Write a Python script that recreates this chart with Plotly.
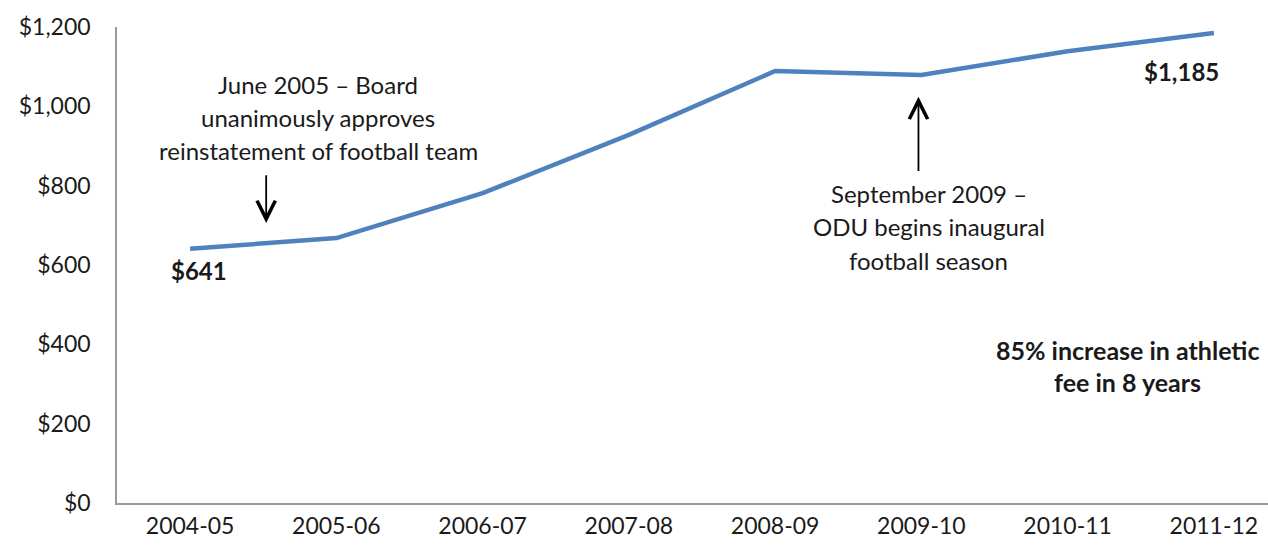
import plotly.graph_objects as go

# Annual athletic fee by academic year
years = ["2004-05", "2005-06", "2006-07", "2007-08", "2008-09", "2009-10", "2010-11", "2011-12"]
fees = [641, 668, 781, 928, 1089, 1079, 1139, 1185]

y_ticks = [0, 200, 400, 600, 800, 1000, 1200]
y_labels = ["$0", "$200", "$400", "$600", "$800", "$1,000", "$1,200"]

FONT = "Lato"
TXT = "#1a1a1a"

fig = go.Figure()
fig.add_trace(go.Scatter(
    x=list(range(len(years))), y=fees, mode="lines",
    line=dict(color="#4F81BD", width=4.5),
    hoverinfo="skip", showlegend=False,
))

ann = []

def text(x, y, s, bold=False, size=24):
    ann.append(dict(x=x, y=y, xref="x", yref="y", text=f"<b>{s}</b>" if bold else s,
                    showarrow=False, font=dict(family=FONT, size=size, color=TXT),
                    xanchor="center", yanchor="middle"))

# Endpoint value labels
text(0.06, 585, f"${fees[0]:,}", bold=True, size=24)
text(6.78, 1087, f"${fees[-1]:,}", bold=True, size=24)

# Board approval note
for i, line in enumerate(["June 2005 \u2013 Board", "unanimously approves", "reinstatement of football team"]):
    text(0.875, 1055 - i * 83, line)

# Inaugural season note
for i, line in enumerate(["September 2009 \u2013", "ODU begins inaugural", "football season"]):
    text(5.05, 780 - i * 84, line)

# Summary note
text(6.41, 385, "85% increase in athletic", bold=True, size=25)
text(6.41, 305, "fee in 8 years", bold=True, size=25)

# Arrows
ann.append(dict(x=0.52, y=706, ax=0.52, ay=830, xref="x", yref="y", axref="x", ayref="y",
                text="", showarrow=True, arrowhead=5, arrowsize=2.0, arrowwidth=1.8, arrowcolor="#000"))
ann.append(dict(x=4.98, y=1024, ax=4.98, ay=833, xref="x", yref="y", axref="x", ayref="y",
                text="", showarrow=True, arrowhead=5, arrowsize=2.0, arrowwidth=1.8, arrowcolor="#000"))

fig.update_layout(
    width=1268, height=548,
    margin=dict(l=117, r=0, t=27, b=45),
    paper_bgcolor="white", plot_bgcolor="white",
    annotations=ann,
    xaxis=dict(
        range=[-0.5, 7.37], tickmode="array", tickvals=list(range(len(years))), ticktext=years,
        showgrid=False, zeroline=False, showline=True, linecolor="#9a9a9a", linewidth=1.5,
        ticks="", tickfont=dict(family=FONT, size=23, color=TXT), ticklabelstandoff=2,
    ),
    yaxis=dict(
        range=[0, 1200], tickmode="array", tickvals=y_ticks, ticktext=y_labels,
        showgrid=False, zeroline=False, showline=True, linecolor="#9a9a9a", linewidth=1.5,
        ticks="", tickfont=dict(family=FONT, size=23, color=TXT), ticklabelstandoff=20,
    ),
)

fig.write_html("out.html")
